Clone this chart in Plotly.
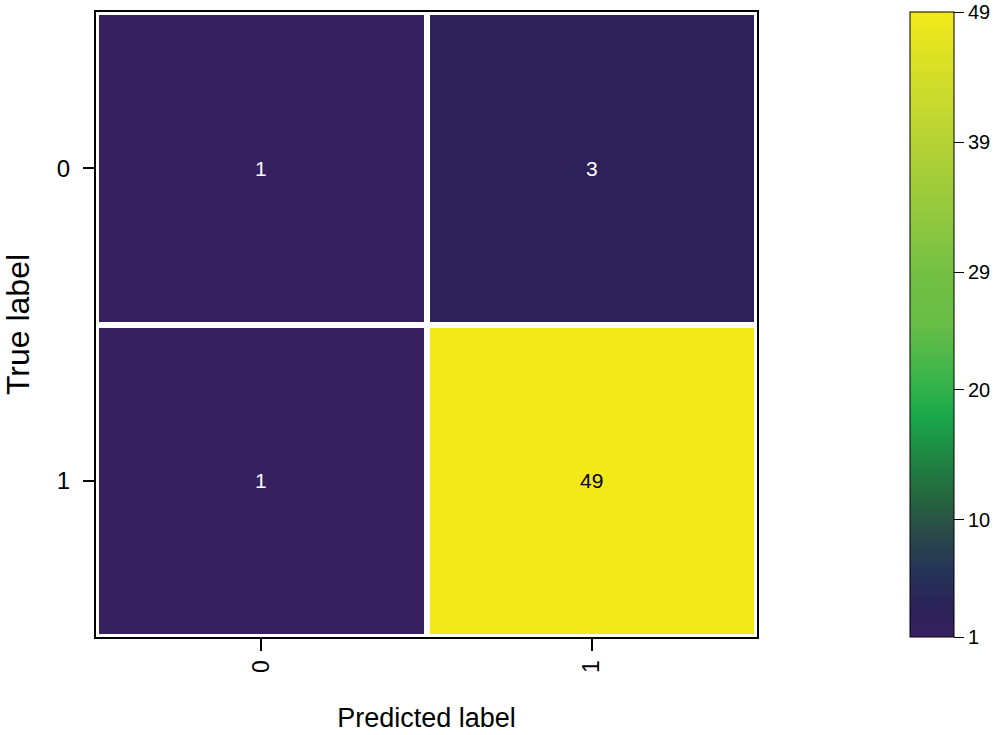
import plotly.graph_objects as go

# ---- data ----
pred_labels = ["0", "1"]
true_labels = ["0", "1"]
row_true0 = [1, 3]
row_true1 = [1, 49]
cbar_ticks = [1, 10, 20, 29, 39, 49]

# colour anchors (value, colour)
scale_vals = [1, 3, 6, 9, 12, 15, 18, 21, 25, 29, 34, 39, 44, 49]
scale_cols = ["#37205f", "#2c2158", "#263358", "#2a4a48", "#256a3e", "#1e8843",
              "#1aa84b", "#3cb54c", "#68bd46", "#74c044", "#96c93d", "#b5d234",
              "#d3de29", "#f3e919"]

z = [row_true0, row_true1]
zmin, zmax = min(scale_vals), max(scale_vals)
colorscale = [[(v - zmin) / (zmax - zmin), c] for v, c in zip(scale_vals, scale_cols)]

xs = list(range(len(pred_labels)))
ys = list(range(len(true_labels)))

fig = go.Figure(go.Heatmap(
    z=z, x=xs, y=ys, zmin=zmin, zmax=zmax, colorscale=colorscale,
    xgap=6, ygap=6, hoverinfo="skip",
    colorbar=dict(
        tickvals=cbar_ticks, ticktext=[str(t) for t in cbar_ticks],
        ticks="outside", ticklen=10, tickwidth=1, tickcolor="black",
        tickfont=dict(family="Liberation Sans", size=20, color="black"),
        ticklabeloverflow="allow",
        thickness=44, len=1.0, lenmode="fraction", y=0.5, yanchor="middle",
        x=1.232, xanchor="left", xpad=0, ypad=0,
        outlinewidth=1, outlinecolor="black",
    ),
))

annotations = []
for i, row in enumerate(z):
    for j, v in enumerate(row):
        annotations.append(dict(
            x=xs[j], y=ys[i], xref="x", yref="y", text=str(v), showarrow=False,
            font=dict(family="Liberation Sans", size=21,
                      color="black" if v > (zmin + zmax) / 2 else "white"),
        ))

fig.update_layout(
    width=1000, height=735,
    margin=dict(l=96, r=243, t=12, b=98, autoexpand=False),
    paper_bgcolor="white", plot_bgcolor="white",
    annotations=annotations,
    font=dict(family="Liberation Sans", color="black"),
)
fig.update_xaxes(
    tickvals=xs, ticktext=pred_labels, range=[-0.5, 1.5], tickangle=-90,
    showline=True, mirror=True, linecolor="black", linewidth=2,
    ticks="outside", ticklen=12, tickwidth=2, tickcolor="black",
    tickfont=dict(family="Liberation Sans", size=23),
    showgrid=False, zeroline=False,
    title=dict(text="Predicted label", standoff=36,
               font=dict(family="Liberation Sans", size=27)),
)
fig.update_yaxes(
    tickvals=ys, ticktext=true_labels, range=[1.5, -0.5],
    showline=True, mirror=True, linecolor="black", linewidth=2,
    ticks="outside", ticklen=11, tickwidth=2, tickcolor="black",
    tickfont=dict(family="Liberation Sans", size=24), ticklabelstandoff=8,
    showgrid=False, zeroline=False,
    title=dict(text="True label", standoff=24,
               font=dict(family="Liberation Sans", size=32)),
)

fig.write_html(
    "out.html",
    config={"displayModeBar": False},
    post_script="document.body.style.margin='0';document.body.style.overflow='hidden';",
)
